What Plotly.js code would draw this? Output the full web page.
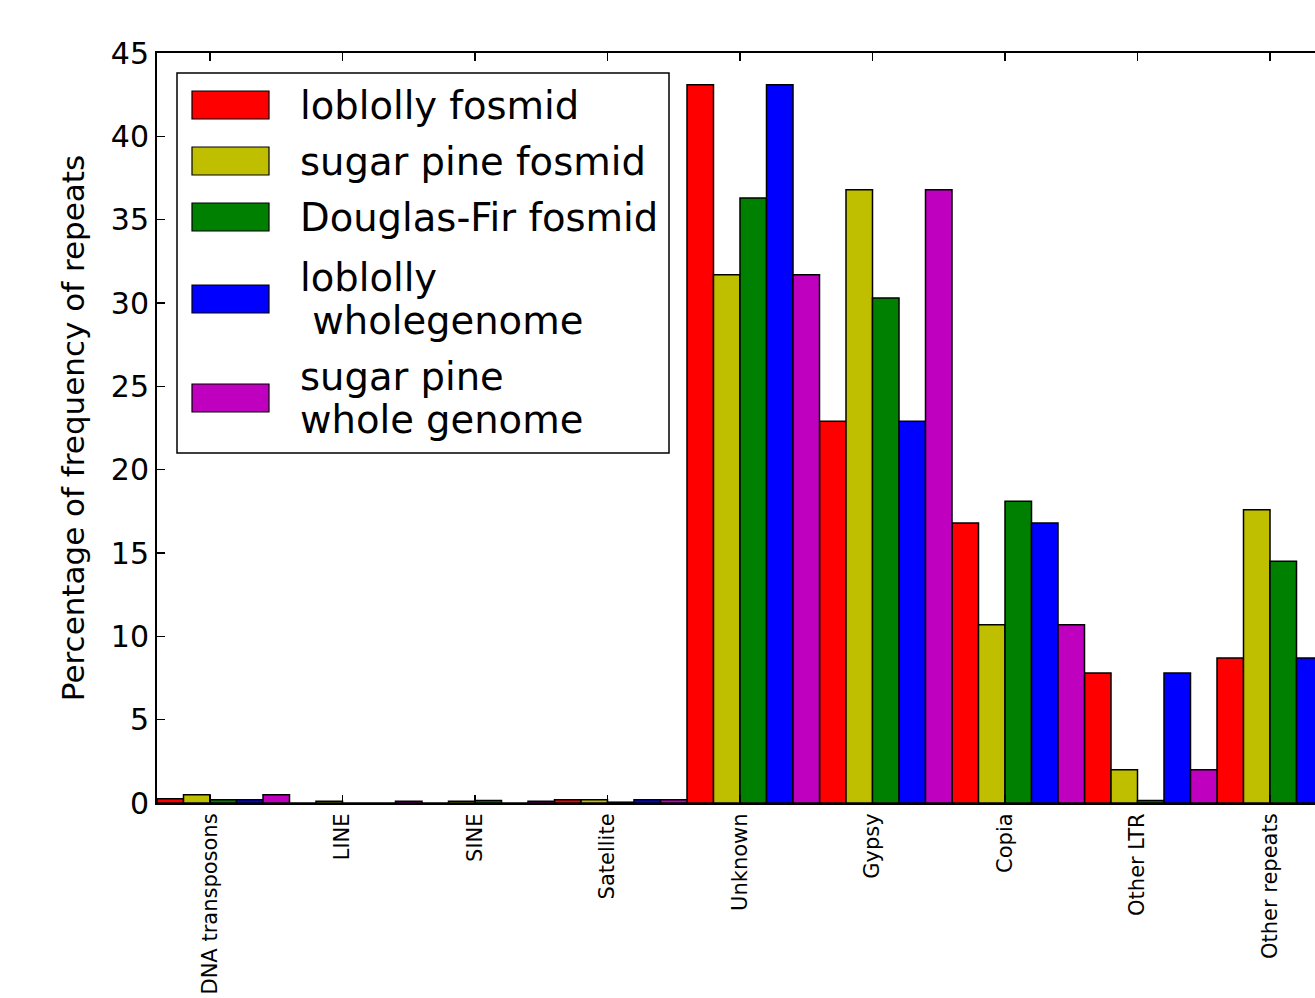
<!DOCTYPE html>
<html>
<head>
<meta charset="utf-8">
<script src="https://cdn.plot.ly/plotly-3.0.1.min.js"></script>
<style>html,body{margin:0;padding:0;background:#fff;overflow:hidden}</style>
</head>
<body>
<div id="chart" style="width:1315px;height:998px"></div>
<script>
// ---- data ----
const categories = ['DNA transposons','LINE','SINE','Satellite','Unknown','Gypsy','Copia','Other LTR','Other repeats'];
const seriesNames = ['loblolly fosmid','sugar pine fosmid','Douglas-Fir fosmid','loblolly\n wholegenome','sugar pine\nwhole genome'];
const loblollyFosmid     = [0.25, 0.0, 0.0, 0.2, 43.1, 22.9, 16.8, 7.8, 8.7];
const sugarPineFosmid    = [0.5, 0.1, 0.1, 0.2, 31.7, 36.8, 10.7, 2.0, 17.6];
const douglasFirFosmid   = [0.2, 0.0, 0.15, 0.05, 36.3, 30.3, 18.1, 0.15, 14.5];
const loblollyWholeGenome = [0.2, 0.0, 0.0, 0.2, 43.1, 22.9, 16.8, 7.8, 8.7];
const sugarPineWholeGenome = [0.5, 0.1, 0.1, 0.2, 31.7, 36.8, 10.7, 2.0, 17.6];
const yTicks = [0,5,10,15,20,25,30,35,40,45];

// ---- style ----
const colors = ['#ff0000','#bfbf00','#008000','#0000ff','#bf00bf'];
const seriesValues = [loblollyFosmid, sugarPineFosmid, douglasFirFosmid, loblollyWholeGenome, sugarPineWholeGenome];
const idx = categories.map((c,i)=>i);
const FONT = 'DejaVu Sans, sans-serif';

const traces = seriesValues.map((vals,k)=>({
  type:'bar', x: idx, y: vals, name: seriesNames[k].replace('\n',''),
  marker:{color:colors[k], line:{color:'#000', width:1.5}},
  showlegend:false, hoverinfo:'y'
}));

// plot area geometry (pixels)
const L=157, R=1315, T=53, B=803;
const px2x = p => (p-L)/(R-L);
const px2y = p => (B-p)/(B-T);

const shapes = [];
const annotations = [];
// legend frame
shapes.push({type:'rect', xref:'paper', yref:'paper', x0:px2x(177), x1:px2x(669), y0:px2y(453), y1:px2y(73),
  line:{color:'#000', width:1.5}, fillcolor:'#fff', layer:'above'});
const swCenters = [105, 161, 217, 299, 398];
seriesNames.forEach((nm,k)=>{
  const cy = swCenters[k];
  shapes.push({type:'rect', xref:'paper', yref:'paper', x0:px2x(192), x1:px2x(269), y0:px2y(cy+14), y1:px2y(cy-14),
    line:{color:'#000', width:1.2}, fillcolor:colors[k], layer:'above'});
  const lines = nm.split('\n');
  lines.forEach((ln,j)=>{
    const ly = cy + (j - (lines.length-1)/2)*43;
    annotations.push({xref:'paper', yref:'paper', x:px2x(298), y:px2y(ly), xanchor:'left', yanchor:'middle',
      text: ln.replace(/^ /,'\u00a0'), showarrow:false, font:{family:FONT, size:38.5, color:'#000'}});
  });
});

const layout = {
  width:1315, height:998,
  margin:{l:L, r:1315-R, t:T, b:998-B, pad:0},
  paper_bgcolor:'#fff', plot_bgcolor:'#fff',
  barmode:'group', bargap:0, bargroupgap:0,
  font:{family:FONT, color:'#000'},
  xaxis:{range:[-0.5, -0.5 + (R-L)/132.5], tickmode:'array',
    tickvals: idx.map(i=>i-0.1), ticktext: categories, tickangle:-90,
    tickfont:{family:FONT, size:21, color:'#000'},
    ticks:'inside', ticklen:8, tickwidth:1.2, tickcolor:'#000',
    showline:true, linecolor:'#000', linewidth:2, mirror:'ticks',
    showgrid:false, zeroline:false, fixedrange:true},
  yaxis:{range:[0,45], tickmode:'array', tickvals:yTicks, ticktext:yTicks.map(String),
    tickfont:{family:FONT, size:30, color:'#000'},
    ticks:'inside', ticklen:8, tickwidth:1.2, tickcolor:'#000',
    showline:true, linecolor:'#000', linewidth:2, mirror:false,
    showgrid:false, zeroline:false, fixedrange:true,
    title:{text:'Percentage of frequency of repeats', font:{family:FONT, size:31, color:'#000'}}},
  shapes: shapes,
  annotations: annotations
};

Plotly.newPlot('chart', traces, layout, {displayModeBar:false, staticPlot:true});
</script>
</body>
</html>
